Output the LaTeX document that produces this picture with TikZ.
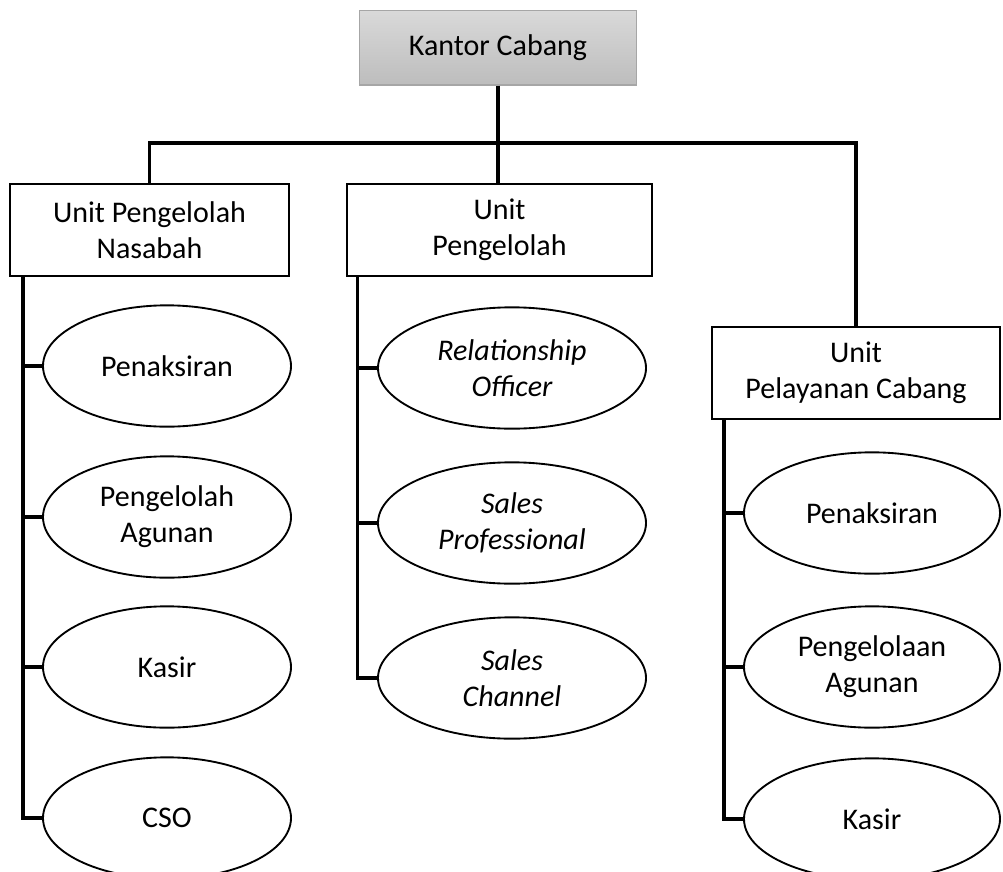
\documentclass[tikz,border=0pt]{standalone}
\usepackage{fontspec}
\setmainfont{Carlito}
\usetikzlibrary{shapes.geometric}
\definecolor{abuatas}{HTML}{D9D9D9}
\definecolor{abubawah}{HTML}{BDBDBD}
\definecolor{abugaris}{HTML}{A6A6A6}
\begin{document}
\begin{tikzpicture}[x=0.75pt, y=-0.75pt,
  font=\fontsize{22.5}{27}\selectfont,
  garis/.style={line width=2.5pt},
  kotak/.style={draw, line width=1.7pt, rectangle, align=center,
    inner sep=0pt, minimum height=69pt, minimum width=#1},
  pusat/.style={rectangle, draw=abugaris, line width=1pt, top color=abuatas,
    bottom color=abubawah, minimum width=208pt, minimum height=56pt},
  bulat/.style={draw, line width=1.4pt, ellipse, align=center,
    inner sep=0pt, minimum height=91pt, minimum width=#1}]
  \useasboundingbox (0,0) rectangle (1003,871);
  % kantor cabang
  \node[pusat] (kc) at (498,47.5) {Kantor Cabang};
  % unit
  \node[kotak=209pt] (unpn) at (149.5,230) {Unit Pengelolah\\Nasabah};
  \node[kotak=229pt] (unp) at (499.5,230) {Unit\\Pengelolah};
  \node[kotak=216pt] (upc) at (856,373) {Unit\\Pelayanan Cabang};
  % garis kantor ke unit
  \coordinate (bus) at (kc.south |- 0,143);
  \draw[garis] (kc.south) -- (kc.south |- unp.north);
  \draw[garis] (unpn.north) |- (bus) -| (upc.north);
  % kolom kiri
  \node[bulat=186pt] (pen1) at (167,366) {Penaksiran};
  \node[bulat=186pt] (agn1) at (167,517) {Pengelolah\\Agunan};
  \node[bulat=186pt] (ksr1) at (167,667) {Kasir};
  \node[bulat=186pt] (cso) at (167,818) {CSO};
  \draw[garis] (unpn.south west) ++(14,0) coordinate (kiri) |- (cso.west);
  \foreach \n in {pen1,agn1,ksr1}
    \draw[garis] (kiri |- \n.west) -- (\n.west);
  % kolom tengah
  \node[bulat=201pt] (ro) at (512,368) {\itshape Relationship\\\itshape Officer};
  \node[bulat=201pt] (sp) at (512,523) {\itshape Sales\\\itshape Professional};
  \node[bulat=201pt] (sc) at (512,678) {\itshape Sales\\\itshape Channel};
  \draw[garis] (unp.south west) ++(12,0) coordinate (tengah) |- (sc.west);
  \foreach \n in {ro,sp}
    \draw[garis] (tengah |- \n.west) -- (\n.west);
  % kolom kanan
  \node[bulat=192pt] (pen2) at (872,513) {Penaksiran};
  \node[bulat=192pt] (agn2) at (872,667) {Pengelolaan\\Agunan};
  \node[bulat=192pt] (ksr2) at (872,819) {Kasir};
  \draw[garis] (upc.south west) ++(13,0) coordinate (kanan) |- (ksr2.west);
  \foreach \n in {pen2,agn2}
    \draw[garis] (kanan |- \n.west) -- (\n.west);
\end{tikzpicture}
\end{document}
